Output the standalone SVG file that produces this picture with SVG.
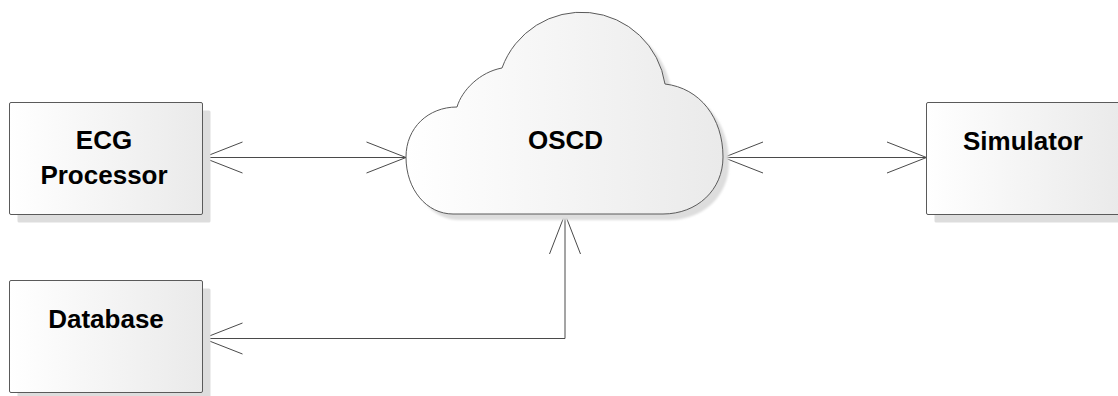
<svg xmlns="http://www.w3.org/2000/svg" width="1118" height="396" viewBox="0 0 1118 396">
  <defs>
    <linearGradient id="fillGrad" x1="0" y1="0" x2="1" y2="0">
      <stop offset="0" stop-color="#ffffff"/>
      <stop offset="1" stop-color="#eaeaea"/>
    </linearGradient>
    <filter id="soft" x="-10%" y="-10%" width="120%" height="120%">
      <feGaussianBlur stdDeviation="1.2"/>
    </filter>
    <path id="cloudShape" d="M 453 214 C 427 214 406 190 406 157 C 406 128 428 107 457 107 C 462 90 480 72 502 68 A 84.5 84.5 0 0 1 665 84 C 700 88 723 118 723 157 C 723 190 697 214 663 214 Z"/>
  </defs>
  <style>
    .shadow { fill: #dddddd; }
    .box { fill: url(#fillGrad); stroke: #5a5a5a; stroke-width: 1; }
    .label { font-family: "Liberation Sans", Arial, sans-serif; font-weight: bold; font-size: 26px; fill: #000000; text-anchor: middle; }
    .conn { fill: none; stroke: #4a4a4a; stroke-width: 1; }
  </style>
  <rect width="1118" height="396" fill="#ffffff"/>

  <!-- connectors -->
  <g id="connectors">
    <!-- ECG Processor <-> OSCD -->
    <path class="conn" d="M 203 157.5 L 406 157.5"/>
    <path class="conn" d="M 242.5 142 L 203 157.5 L 242.5 173"/>
    <path class="conn" d="M 366.5 142 L 406 157.5 L 366.5 173"/>
    <!-- OSCD <-> Simulator -->
    <path class="conn" d="M 723.5 157.5 L 926.5 157.5"/>
    <path class="conn" d="M 763 142 L 723.5 157.5 L 763 173"/>
    <path class="conn" d="M 887 142 L 926.5 157.5 L 887 173"/>
    <!-- OSCD <-> Database -->
    <path class="conn" d="M 565 214 L 565 338.5 L 203 338.5"/>
    <path class="conn" d="M 549.5 254 L 565 214 L 580.5 254"/>
    <path class="conn" d="M 242.5 323 L 203 338.5 L 242.5 354"/>
  </g>

  <g id="ecg-processor">
    <rect class="shadow" x="17.5" y="110.5" width="193" height="112" rx="1.5"/>
    <rect class="box" x="9.5" y="102.5" width="193" height="112" rx="1.5"/>
    <text class="label" x="104" y="149">ECG</text>
    <text class="label" x="104" y="184">Processor</text>
  </g>

  <g id="database">
    <rect class="shadow" x="17.5" y="288.5" width="193" height="112" rx="1.5"/>
    <rect class="box" x="9.5" y="280.5" width="193" height="112" rx="1.5"/>
    <text class="label" x="106" y="328">Database</text>
  </g>

  <g id="simulator">
    <rect class="shadow" x="934.5" y="110.5" width="193" height="112" rx="1.5"/>
    <rect class="box" x="926.5" y="102.5" width="193" height="112" rx="1.5"/>
    <text class="label" x="1023" y="150">Simulator</text>
  </g>

  <g id="oscd">
    <use href="#cloudShape" class="shadow" transform="translate(6 6)" filter="url(#soft)"/>
    <use href="#cloudShape" class="box"/>
    <text class="label" x="565.5" y="149">OSCD</text>
  </g>
</svg>
